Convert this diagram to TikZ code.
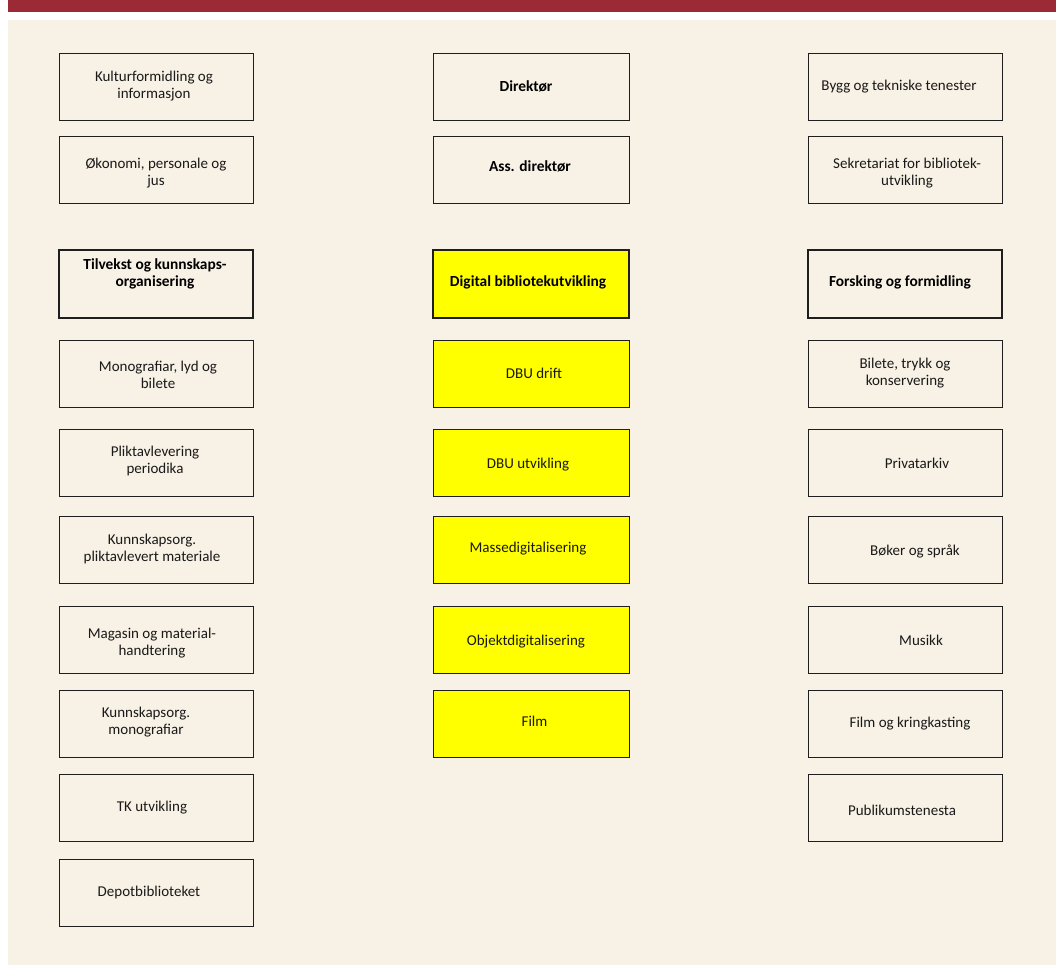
\documentclass[tikz,border=0pt]{standalone}
\usepackage{fontspec}
\setmainfont{Carlito}
\definecolor{band}{RGB}{155,41,54}
\definecolor{paper}{RGB}{248,241,229}
\definecolor{edge}{RGB}{30,30,30}
\definecolor{hl}{RGB}{255,255,0}
\tikzset{
  box/.style={draw=edge, line width=1pt, minimum width=194pt, minimum height=67pt, inner sep=0pt, outer sep=0pt},
  keybox/.style={box, line width=2.4pt, minimum height=68pt},
  ybox/.style={box, fill=hl},
  lbl/.style={font=\fontsize{15pt}{17pt}\selectfont, align=center, inner sep=0pt, text=black!90},
  blbl/.style={font=\fontsize{15.4pt}{17pt}\selectfont\bfseries, align=center, inner sep=0pt, text=black},
}
\begin{document}
\begin{tikzpicture}[x=1pt,y=-1pt]
\useasboundingbox (0,0) rectangle (1056,965);
\fill[white] (0,0) rectangle (1056,965);
\fill[band] (8,0) rectangle (1056,12);
\fill[paper] (8,20) rectangle (1056,965);
% left column
\node[box, label={[lbl,xshift=-2pt,yshift=1.5pt]center:{Kulturformidling og\\informasjon}}] (kult) at (156,87.5) {};
\node[box, label={[lbl,yshift=-3pt]center:{Økonomi, personale og\\jus}}] (okon) at (156,170.5) {};
\node[keybox, label={[blbl,xshift=-1pt,yshift=10pt]center:{Tilvekst og kunnskaps-\\organisering}}] (tilv) at (156,284) {};
\node[box, label={[lbl,xshift=2pt,yshift=-1pt]center:{Monografiar, lyd og\\bilete}}] (mono) at (156,373.5) {};
\node[box, label={[lbl,xshift=-1pt,yshift=2pt]center:{Pliktavlevering\\periodika}}] (plikt) at (156,462.5) {};
\node[box, label={[lbl,xshift=-4pt,yshift=1pt]center:{Kunnskapsorg.\\pliktavlevert materiale}}] (kpm) at (156,550) {};
\node[box, label={[lbl,xshift=-4pt,yshift=-4pt]center:{Magasin og material-\\handtering}}] (mag) at (156,639.5) {};
\node[box, label={[lbl,xshift=-10pt,yshift=2pt]center:{Kunnskapsorg.\\monografiar}}] (kmono) at (156,724) {};
\node[box, label={[lbl,xshift=-4pt]center:{TK utvikling}}] (tk) at (156,807.5) {};
\node[box, label={[lbl,xshift=-7pt]center:{Depotbiblioteket}}] (depot) at (156,892.5) {};
% middle column
\node[box, minimum width=196pt, label={[blbl,xshift=-5pt,yshift=1pt]center:{Direktør}}] (dir) at (531,87.5) {};
\node[box, minimum width=196pt, label={[blbl,xshift=-1pt,yshift=4pt]center:{Ass. direktør}}] (ass) at (531,170.5) {};
\node[keybox, fill=hl, minimum width=196pt, label={[blbl,xshift=-3pt,yshift=1.5pt]center:{Digital bibliotekutvikling}}] (dig) at (531,284) {};
\node[ybox, minimum width=196pt, label={[lbl,xshift=3pt]center:{DBU drift}}] (dbud) at (531,373.5) {};
\node[ybox, minimum width=196pt, label={[lbl,xshift=-3pt,yshift=-2pt]center:{DBU utvikling}}] (dbuu) at (531,462.5) {};
\node[ybox, minimum width=196pt, label={[lbl,xshift=-3pt,yshift=1pt]center:{Massedigitalisering}}] (masse) at (531,550) {};
\node[ybox, minimum width=196pt, label={[lbl,xshift=-5pt,yshift=-2.5pt]center:{Objektdigitalisering}}] (obj) at (531,639.5) {};
\node[ybox, minimum width=196pt, label={[lbl,xshift=3.5pt,yshift=2.5pt]center:{Film}}] (film) at (531,724) {};
% right column
\node[box, label={[lbl,xshift=-6pt,yshift=1pt]center:{Bygg og tekniske tenester}}] (bygg) at (905,87.5) {};
\node[box, label={[lbl,xshift=2pt,yshift=-2.5pt]center:{Sekretariat for bibliotek-\\utvikling}}] (sekr) at (905,170.5) {};
\node[keybox, label={[blbl,xshift=-5pt,yshift=2pt]center:{Forsking og formidling}}] (fors) at (905,284) {};
\node[box, label={[lbl]center:{Bilete, trykk og\\konservering}}] (bil) at (905,373.5) {};
\node[box, label={[lbl,xshift=12pt,yshift=-1pt]center:{Privatarkiv}}] (priv) at (905,462.5) {};
\node[box, label={[lbl,xshift=10pt,yshift=-1pt]center:{Bøker og språk}}] (bok) at (905,550) {};
\node[box, label={[lbl,xshift=16pt,yshift=-1pt]center:{Musikk}}] (mus) at (905,639.5) {};
\node[box, label={[lbl,xshift=5pt]center:{Film og kringkasting}}] (filmk) at (905,724) {};
\node[box, label={[lbl,xshift=-3pt,yshift=-3pt]center:{Publikumstenesta}}] (pub) at (905,807.5) {};
\end{tikzpicture}
\end{document}
